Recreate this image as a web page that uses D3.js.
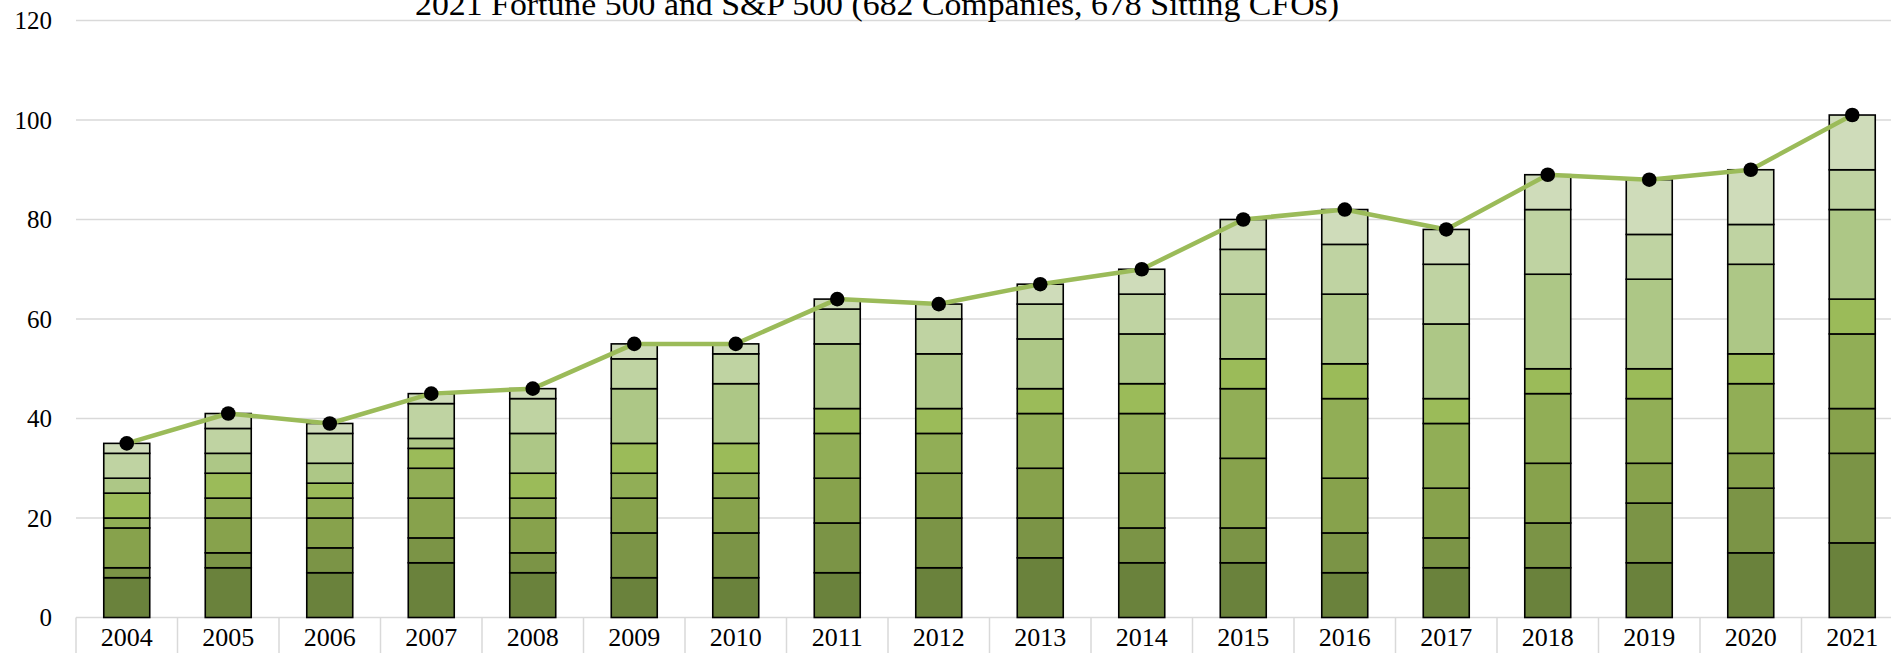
<!DOCTYPE html>
<html>
<head>
<meta charset="utf-8">
<script src="https://cdn.jsdelivr.net/npm/d3@7"></script>
<style>
  html, body { margin: 0; padding: 0; background: #fff; overflow: hidden; }
  svg { display: block; }
</style>
</head>
<body>
<svg id="chart" width="1891" height="653"></svg>
<script>
const title = "2021 Fortune 500 and S&P 500 (682 Companies, 678 Sitting CFOs)";
const years = ["2004","2005","2006","2007","2008","2009","2010","2011","2012","2013","2014","2015","2016","2017","2018","2019","2020","2021"];
const s1 = [8,10,9,11,9,8,8,9,10,12,11,11,9,10,10,11,13,15];
const s2 = [2,3,5,5,4,9,9,10,10,8,7,7,8,6,9,12,13,18];
const s3 = [8,7,6,8,7,7,7,9,9,10,11,14,11,10,12,8,7,9];
const s4 = [2,4,4,6,4,5,5,9,8,11,12,14,16,13,14,13,14,15];
const s5 = [5,5,3,4,5,6,6,5,5,5,6,6,7,5,5,6,6,7];
const s6 = [3,4,4,2,8,11,12,13,11,10,10,13,14,15,19,18,18,18];
const s7 = [5,5,6,7,7,6,6,7,7,7,8,9,10,12,13,9,8,8];
const s8 = [2,3,2,2,2,3,2,2,3,4,5,6,7,7,7,11,11,11];
const totals = [35,41,39,45,46,55,55,64,63,67,70,80,82,78,89,88,90,101];
const yTicks = [0,20,40,60,80,100,120];

const seriesList = [s1,s2,s3,s4,s5,s6,s7,s8];
const colors = ["#6a823c","#7b9446","#87a24c","#91ae56","#9bbb59","#adc786","#bfd3a2","#cfdcba"];

const svg = d3.select("#chart");
const plotLeft = 76, plotRight = 1903, plotTop = 20.5, plotBottom = 617.5;

const x = d3.scaleBand().domain(years).range([plotLeft, plotRight]).paddingInner(0.547).paddingOuter(0.2735);
const y = d3.scaleLinear().domain([0, 120]).range([plotBottom, plotTop]);

const rows = years.map((yr, i) => {
  const r = { year: yr };
  seriesList.forEach((s, k) => r["k" + k] = s[i]);
  return r;
});
const keys = seriesList.map((s, k) => "k" + k);
const stacked = d3.stack().keys(keys)(rows);

// gridlines
svg.append("g").selectAll("line").data(yTicks).join("line")
  .attr("x1", plotLeft).attr("x2", 1891)
  .attr("y1", d => y(d)).attr("y2", d => y(d))
  .attr("stroke", "#d9d9d9").attr("stroke-width", 1.5);

// category separators
const step = x.step();
const bounds = years.map((d, i) => plotLeft + i * step).concat([plotRight]);
svg.append("g").selectAll("line").data(bounds).join("line")
  .attr("x1", d => d).attr("x2", d => d)
  .attr("y1", plotBottom).attr("y2", 660)
  .attr("stroke", "#d9d9d9").attr("stroke-width", 1.5);

// y labels
svg.append("g").selectAll("text").data(yTicks).join("text")
  .attr("x", 52).attr("y", d => y(d))
  .attr("dy", "0.35em")
  .attr("text-anchor", "end")
  .attr("font-family", "Liberation Serif, serif")
  .attr("font-size", 25)
  .attr("fill", "#000")
  .text(d => d);

// x labels
svg.append("g").selectAll("text").data(years).join("text")
  .attr("x", d => x(d) + x.bandwidth() / 2).attr("y", 646)
  .attr("text-anchor", "middle")
  .attr("font-family", "Liberation Serif, serif")
  .attr("font-size", 26)
  .attr("fill", "#000")
  .text(d => d);

// bars
svg.append("g").selectAll("g").data(stacked).join("g")
  .attr("fill", (d, i) => colors[i])
  .selectAll("rect").data(d => d).join("rect")
  .attr("x", d => x(d.data.year))
  .attr("y", d => y(d[1]))
  .attr("width", x.bandwidth())
  .attr("height", d => y(d[0]) - y(d[1]))
  .attr("stroke", "#000").attr("stroke-width", 1.6);

// total line
const pts = years.map((yr, i) => [x(yr) + x.bandwidth() / 2, y(totals[i])]);
svg.append("path")
  .attr("d", d3.line()(pts))
  .attr("fill", "none").attr("stroke", "#9bbb59").attr("stroke-width", 4.5)
  .attr("stroke-linejoin", "round");

svg.append("g").selectAll("circle").data(pts).join("circle")
  .attr("cx", d => d[0]).attr("cy", d => d[1]).attr("r", 7.3)
  .attr("fill", "#000");

// title (cropped at top in original)
svg.append("text")
  .attr("x", 877).attr("y", 15)
  .attr("text-anchor", "middle")
  .attr("font-family", "Liberation Serif, serif")
  .attr("font-size", 32)
  .attr("textLength", 924)
  .attr("lengthAdjust", "spacingAndGlyphs")
  .attr("fill", "#000")
  .text(title);
</script>
</body>
</html>
